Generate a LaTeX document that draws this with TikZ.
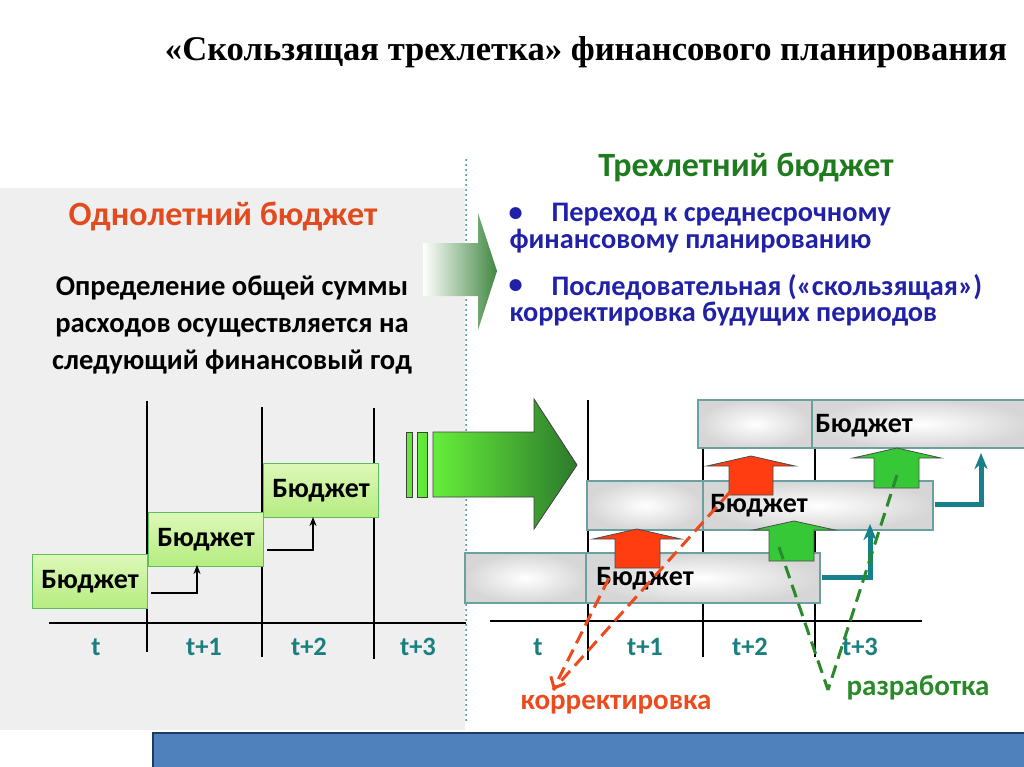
\documentclass[tikz,border=0pt]{standalone}
\usepackage{fontspec}
\setmainfont{Carlito}
\newfontfamily\titlefont{Liberation Serif}
\usetikzlibrary{arrows.meta}
\definecolor{panelgray}{HTML}{EFEFEF}
\definecolor{tealtxt}{HTML}{1B7F80}
\definecolor{orng}{HTML}{E24B1F}
\definecolor{dgreen}{HTML}{1E7B1E}
\definecolor{navyb}{HTML}{2121A8}
\definecolor{boxgreen}{HTML}{5DBE5D}
\definecolor{lgtop}{HTML}{DDF8B8}
\definecolor{lgbot}{HTML}{B5EC80}
\definecolor{redarr}{HTML}{FF3D10}
\definecolor{grnarr}{HTML}{36C836}
\definecolor{barblue}{HTML}{4F81BD}
\definecolor{bardark}{HTML}{1F3A60}
\definecolor{boxedge}{HTML}{6AA0A0}
\definecolor{elbowteal}{HTML}{17808A}
\definecolor{brightg}{HTML}{66EE3A}
\definecolor{darkg}{HTML}{2C7A2C}
\definecolor{redash}{HTML}{EE4A1E}
\definecolor{grdash}{HTML}{2A8A2A}
\tikzset{
  lbox/.style={draw=boxgreen, line width=1.2pt, top color=lgtop, bottom color=lgbot,
    minimum width=115pt, minimum height=54pt, inner sep=0pt, anchor=north west,
    font=\bfseries\fontsize{28}{32}\selectfont},
  gcell/.style={draw=boxedge, line width=1.2pt, inner color=white, outer color=gray!32},
  btxt/.style={font=\bfseries\fontsize{28}{32}\selectfont},
  tlab/.style={text=tealtxt, font=\bfseries\fontsize{26.5}{30}\selectfont},
  vline/.style={line width=1.2pt, black},
  redblk/.style={fill=redarr, draw=black!70, line width=0.8pt},
  grnblk/.style={fill=grnarr, draw=black!70, line width=0.8pt},
  elbow/.style={line width=2pt, -{Stealth[length=9pt,width=7pt]}},
  tealelbow/.style={elbowteal, line width=5pt, -{Stealth[length=16pt,width=13pt,inset=5pt]}},
  reddash/.style={redash, line width=3pt, dash pattern=on 13pt off 7pt},
  grndash/.style={grdash, line width=3pt, dash pattern=on 13pt off 7pt},
  bul/.style={text=navyb, anchor=west, font=\bfseries\fontsize{28.3}{32}\selectfont}
}
\begin{document}
\begin{tikzpicture}[x=1pt,y=-1pt]
\useasboundingbox (0,0) rectangle (1024,767);
\fill[white] (0,0) rectangle (1024,767);
% left panel
\fill[panelgray] (0,188) rectangle (465,730);
% bottom bar
\fill[barblue] (153,733) rectangle (1024,767);
\draw[bardark, line width=1.5pt] (153,767) -- (153,733) -- (1024,733);
% dotted divider
\draw[tealtxt, line width=2pt, line cap=round, dash pattern=on 0pt off 5pt] (466,160) -- (466,722);

% title
\node[font=\titlefont\bfseries\fontsize{34.6}{40}\selectfont] (title) at (586,52) {«Скользящая трехлетка» финансового планирования};

% left texts
\node[text=orng, font=\bfseries\fontsize{34}{38}\selectfont] (one) at (223,217) {Однолетний бюджет};
\node[align=center, font=\bfseries\fontsize{28.6}{37}\selectfont] (def) at (232,325) {Определение общей суммы\\расходов осуществляется на\\следующий финансовый год};

% right texts
\node[text=dgreen, font=\bfseries\fontsize{34}{38}\selectfont] (three) at (746,168) {Трехлетний бюджет};
\node[bul] (d1) at (505,215) {•};
\node[bul] (l1) at (548,215) {Переход к среднесрочному};
\node[bul] (l2) at (506,241) {финансовому планированию};
\node[bul] (d2) at (505,287) {•};
\node[bul] (l3) at (548,287) {Последовательная («скользящая»)};
\node[bul] (l4) at (506,314) {корректировка будущих периодов};

% gradient arrow
\shade[left color=white, right color=darkg!90] (423,243) -- (478,243) -- (478,213) -- (497,271) -- (478,330) -- (478,296) -- (423,296) -- cycle;

% left timeline
\draw[vline] (147,401) -- (147,652);
\draw[vline] (262,407) -- (262,657);
\draw[vline] (374,408) -- (374,659);
\draw[vline] (49,623) -- (466,623);
\node[tlab] (lt0) at (96,647) {t};
\node[tlab] (lt1) at (204,647) {t+1};
\node[tlab] (lt2) at (309,647) {t+2};
\node[tlab] (lt3) at (418,647) {t+3};
\node[lbox] (lb1) at (32,554) {Бюджет};
\node[lbox] (lb2) at (148,512) {Бюджет};
\node[lbox] (lb3) at (263,463) {Бюджет};
\coordinate (e1s) at (151,593); \coordinate (e1c) at (197,593); \coordinate (e1e) at (197,565);
\coordinate (e2s) at (267,550); \coordinate (e2c) at (313,550); \coordinate (e2e) at (313,517);
\draw[elbow] (e1s) -- (e1c) -- (e1e);
\draw[elbow] (e2s) -- (e2c) -- (e2e);

% big green arrow
\foreach \a/\b in {406/412, 417/427}{
  \shade[left color=brightg, right color=brightg!90!darkg] (\a,432) rectangle (\b,497);
  \draw[black!75, line width=0.8pt] (\a,432) rectangle (\b,497);
}
\shade[left color=brightg, right color=darkg] (433,432) -- (534,432) -- (534,399) -- (577,465) -- (534,529) -- (534,497) -- (433,497) -- cycle;
\draw[black!75, line width=0.8pt] (433,432) -- (534,432) -- (534,399) -- (577,465) -- (534,529) -- (534,497) -- (433,497) -- cycle;

% right timeline
\draw[vline] (588,400) -- (588,660);
\draw[vline] (703,440) -- (703,657);
\draw[vline] (815,440) -- (815,657);
\draw[vline] (490,621) -- (922,621);
\node[tlab] (rt0) at (538,647) {t};
\node[tlab] (rt1) at (645,647) {t+1};
\node[tlab] (rt2) at (750,647) {t+2};
\node[tlab] (rt3) at (860,647) {t+3};

% gray budget boxes
\draw[gcell] (465,553) rectangle (586,603);
\draw[gcell] (586,553) rectangle (820,603);
\draw[gcell] (587,481) rectangle (703,530);
\draw[gcell] (703,481) rectangle (933,530);
\draw[gcell] (698,400) rectangle (812,448);
\draw[gcell] (812,400) rectangle (1030,448);
\node[btxt] (ba) at (645,579) {Бюджет};
\node[btxt] (bb) at (759,506) {Бюджет};
\node[btxt] (bc) at (864,426) {Бюджет};

% block arrows
\draw[redblk] (615,568) -- (615,539) -- (593,539) -- (637,529) -- (681,539) -- (660,539) -- (660,568) -- cycle;
\draw[redblk] (729,495) -- (729,466) -- (707,466) -- (751,456) -- (795,466) -- (773,466) -- (773,495) -- cycle;
\draw[grnblk] (769,561) -- (769,530) -- (753,530) -- (794,521) -- (835,530) -- (814,530) -- (814,561) -- cycle;
\draw[grnblk] (874,488) -- (874,458) -- (853,458) -- (897,448) -- (941,458) -- (919,458) -- (919,488) -- cycle;

% teal elbows
\coordinate (t1s) at (822,577); \coordinate (t1c) at (870,577); \coordinate (t1e) at (870,524);
\coordinate (t2s) at (935,504); \coordinate (t2c) at (981,504); \coordinate (t2e) at (981,453);
\draw[tealelbow] (t1s) -- (t1c) -- (t1e);
\draw[tealelbow] (t2s) -- (t2c) -- (t2e);

% dashed connectors
\coordinate (rtip) at (553,690);
\coordinate (r1) at (730,492);
\coordinate (r2) at (609,578);
\draw[reddash] (r1) -- (rtip);
\draw[reddash, -{Straight Barb[length=9pt,width=16pt]}] (r2) -- (rtip);
\coordinate (gtip) at (828,690);
\coordinate (g1) at (779,547);
\coordinate (g2) at (897,475);
\draw[grndash] (g1) -- (gtip);
\draw[grndash] (g2) -- (gtip);

\node[text=redash, font=\bfseries\fontsize{29}{33}\selectfont] (corr) at (616,705) {корректировка};
\node[text=grdash, font=\bfseries\fontsize{29}{33}\selectfont] (dev) at (918,688) {разработка};
\end{tikzpicture}
\end{document}
